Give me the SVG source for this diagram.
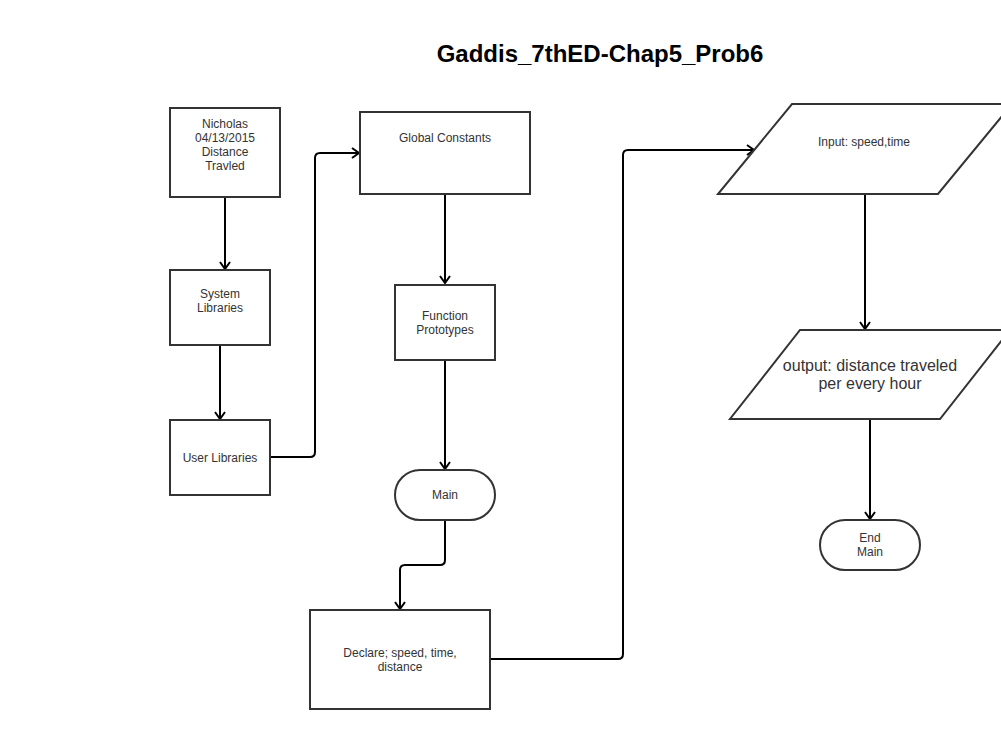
<svg xmlns="http://www.w3.org/2000/svg" width="1001" height="730" viewBox="0 0 1001 730">
<style>
.n{fill:#fff;stroke:#333;stroke-width:2}
.t{font-family:"Liberation Sans",Arial,sans-serif;font-size:12px;fill:#333;text-anchor:middle}
.c{fill:none;stroke:#000;stroke-width:2;marker-end:url(#a)}
</style>
<defs>
<marker id="a" markerUnits="userSpaceOnUse" markerWidth="14" markerHeight="14" viewBox="-8 -7 10 14" refX="0" refY="0" orient="auto" overflow="visible">
<path d="M-7,-5 L0,0 L-7,5" fill="none" stroke="#000" stroke-width="2"/>
</marker>
</defs>
<rect width="1001" height="730" fill="#fff"/>
<text x="600" y="62" style="font-family:'Liberation Sans',Arial,sans-serif;font-size:24px;font-weight:bold;text-anchor:middle;fill:#000">Gaddis_7thED-Chap5_Prob6</text>
<g id="connectors">
<path class="c" d="M225,198 L225,269"/>
<path class="c" d="M220,345 L220,419"/>
<path class="c" d="M270,457 L310,457 Q315,457 315,452 L315,158 Q315,153 320,153 L359,153"/>
<path class="c" d="M445,194 L445,283"/>
<path class="c" d="M445,360 L445,469"/>
<path class="c" d="M445,520 L445,560 Q445,565 440,565 L405,565 Q400,565 400,570 L400,609"/>
<path class="c" d="M491,659 L618,659 Q623,659 623,654 L623,155 Q623,150 628,150 L754,150"/>
<path class="c" d="M865,194 L865,329"/>
<path class="c" d="M870,419 L870,519"/>
</g>
<g id="n1"><rect class="n" x="170" y="108" width="110" height="89"/>
<text class="t" x="225" y="128">Nicholas</text><text class="t" x="225" y="142">04/13/2015</text><text class="t" x="225" y="156">Distance</text><text class="t" x="225" y="170">Travled</text></g>
<g id="n2"><rect class="n" x="170" y="270" width="100" height="75"/>
<text class="t" x="220" y="298">System</text><text class="t" x="220" y="312">Libraries</text></g>
<g id="n3"><rect class="n" x="170" y="420" width="100" height="75"/>
<text class="t" x="220" y="462">User Libraries</text></g>
<g id="n4"><rect class="n" x="360" y="112" width="170" height="82"/>
<text class="t" x="445" y="142">Global Constants</text></g>
<g id="n5"><rect class="n" x="395" y="285" width="100" height="75"/>
<text class="t" x="445" y="320">Function</text><text class="t" x="445" y="334">Prototypes</text></g>
<g id="n6"><rect class="n" x="395" y="470" width="100" height="50" rx="25" ry="25"/>
<text class="t" x="445" y="499">Main</text></g>
<g id="n7"><rect class="n" x="310" y="610" width="180" height="99"/>
<text class="t" x="400" y="657">Declare; speed, time,</text><text class="t" x="400" y="671">distance</text></g>
<g id="n8"><polygon class="n" points="792,104 1012,104 938,194 718,194"/>
<text class="t" x="864" y="146">Input: speed,time</text></g>
<g id="n9"><polygon class="n" points="800,330 1010,330 940,419 730,419"/>
<text class="t" x="870" y="371" style="font-size:16px">output: distance traveled</text><text class="t" x="870" y="389" style="font-size:16px">per every hour</text></g>
<g id="n10"><rect class="n" x="820" y="520" width="100" height="50" rx="25" ry="25"/>
<text class="t" x="870" y="542">End</text><text class="t" x="870" y="556">Main</text></g>
</svg>
